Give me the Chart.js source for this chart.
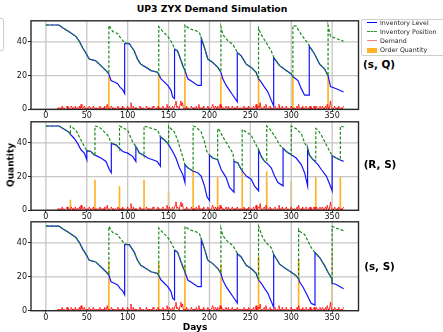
<!DOCTYPE html>
<html>
<head>
<meta charset="utf-8">
<script src="https://cdn.jsdelivr.net/npm/chart.js@4.4.1/dist/chart.umd.min.js"></script>
<style>
  body { margin: 0; background: #fff; }
  #fig { position: relative; width: 443px; height: 332px; overflow: hidden; font-family: 'DejaVu Sans', sans-serif; }
  #fig canvas { position: absolute; left: 0; }
  .lbl { position: absolute; white-space: nowrap; transform: translate(-50%, -50%); font-weight: bold; color: #000; line-height: 1; }
  #legend { position: absolute; left: 360.5px; top: 19px; width: 86px; height: 35px; border: 1px solid #cfcfcf; border-radius: 2px; background: rgba(255,255,255,0.85); z-index: 5; }
  #legend .row { position: absolute; left: 0; height: 0; }
  #legend .h { position: absolute; left: 5px; width: 10px; }
  #legend .t { position: absolute; left: 18.5px; top: 0; transform: translateY(-50%); font-size: 6.3px; color: #222; white-space: nowrap; line-height: 1; }
  #cutbox { position: absolute; left: -30px; top: 18px; width: 32px; height: 31px; border: 1px solid #cfcfcf; border-radius: 2px; }
</style>
</head>
<body>
<div id="fig">
  <div id="cutbox"></div>
  <canvas id="c1" width="362" height="107" style="top:15px"></canvas>
  <canvas id="c2" width="362" height="107" style="top:116px"></canvas>
  <canvas id="c3" width="362" height="107" style="top:216px"></canvas>

  <div class="lbl" style="left:212px; top:9.3px; font-size:9.3px">UP3 ZYX Demand Simulation</div>
  <div class="lbl" style="left:195px; top:327px; font-size:9px">Days</div>
  <div class="lbl" style="left:11.3px; top:164.7px; font-size:9px; transform:translate(-50%,-50%) rotate(-90deg)">Quantity</div>
  <div class="lbl" style="left:379px; top:63.5px; font-size:10.4px">(s, Q)</div>
  <div class="lbl" style="left:380px; top:164.3px; font-size:10.4px">(R, S)</div>
  <div class="lbl" style="left:379.5px; top:265.7px; font-size:10.4px">(s, S)</div>

  <div id="legend">
    <div class="row" style="top:2.7px"><div class="h" style="top:-0.6px; border-top:1.3px solid #0000ff"></div><div class="t">Inventory Level</div></div>
    <div class="row" style="top:12px"><div class="h" style="top:-0.6px; border-top:1.3px dashed #2a9a2a"></div><div class="t">Inventory Position</div></div>
    <div class="row" style="top:21px"><div class="h" style="top:-0.7px; border-top:1.4px solid rgba(255,0,0,0.5)"></div><div class="t">Demand</div></div>
    <div class="row" style="top:30.3px"><div class="h" style="top:-2.5px; height:5px; background:rgba(255,165,0,0.85)"></div><div class="t">Order Quantity</div></div>
  </div>
</div>

<script>
// tick labels
const dayTicks = [0, 50, 100, 150, 200, 250, 300, 350];
const qtyTicks = [0, 20, 40];

// daily demand, days 0..364
const demand = [
  0,0,0,0,0,0,0,0,0,0,0,0,0,0,0,
  1,0,0,1,0,2,0,1,0,0,1,2,0,1,0,0,2,1,0,1,0,2,0,1,1,
  0,2,0,3,1,0,1,2,0,1,0,1,0,2,1,0,0,1,2,0,1,0,1,0,1,
  0,2,0,1,0,1,0,2,0,1,3,0,1,0,0,2,1,0,1,0,1,0,1,2,0,
  1,0,1,0,2,0,1,0,0,1,2,0,1,0,4,1,0,2,0,1,0,1,0,0,1,
  2,0,1,0,1,0,0,1,2,0,1,0,1,0,1,0,2,1,0,0,1,0,2,0,1,
  0,1,0,2,1,0,1,0,3,1,0,2,1,0,1,2,0,1,3,5,1,2,1,0,3,
  5,2,4,1,0,1,0,2,0,1,0,0,1,2,0,1,0,1,0,2,0,1,3,0,1,
  0,1,0,2,1,0,0,1,2,0,1,0,1,2,3,1,0,2,1,0,2,1,0,3,1,
  2,0,1,0,1,2,1,0,2,0,1,0,1,2,0,1,0,1,0,2,0,1,0,1,0,
  1,0,2,0,1,0,1,0,2,1,0,1,0,1,2,0,1,3,0,1,2,1,4,0,1,
  0,1,2,0,3,1,0,1,0,2,0,1,0,1,0,2,1,0,1,0,3,0,1,0,2,
  0,1,0,1,2,0,1,0,0,1,2,0,1,0,1,0,1,2,0,3,1,0,1,0,2,
  0,1,0,2,1,0,1,0,2,0,1,0,1,2,0,1,2,0,1,0,2,1,0,2,1,
  0,1,2,0,3,1,0,2,5,1,0,1,0,2,1,0,1,0,2,1,0,1,0,1,2
];

// (s, Q) policy
const sqLevel = [[0,50],[16,50],[20,48.5],[24.5,47.2],[30.6,45.3],[36.7,43.3],[40.8,40.4],[44.9,36.5],[49.8,32.7],[53,29.8],[61,28.8],[65.3,26.8],[69.4,24.9],[73.5,23],[77,21],[79.6,17.1],[83.7,16.2],[87.8,15.2],[90.6,13.2],[93.9,11.7],[96.3,9.4],[96.3,39],[102,39],[108,34.6],[112,29.8],[116,26.8],[122.4,24.9],[128.6,23],[136.7,22],[138,20.6],[140.8,18.1],[144.9,16.2],[149,14.2],[153,11.3],[155,7.4],[157.3,6.4],[157.3,35.6],[161,34.6],[165.3,28.8],[168.2,24.9],[170,23],[173.5,18.1],[179.6,16.2],[185.7,14.2],[190,14.2],[190,42],[193.9,36.5],[198,29.8],[204,27.8],[210.2,24.9],[214,22],[216.3,18.1],[220.4,14.2],[224.5,11.3],[228.6,8.4],[234,4.5],[234,33.6],[238.8,31.7],[244.9,26.8],[251,24.9],[257,22],[260,18.1],[263.3,16.2],[267.3,13.2],[271.4,10.3],[275.5,5.5],[278.5,2],[278.5,30.7],[285.7,25.9],[293.9,23],[300,21],[302,19.5],[308.2,17.1],[312.2,12.3],[316.3,8.4],[322,8.4],[322,37.5],[328.6,32.7],[334.7,26.8],[340.8,23.9],[345,20],[348,13.5],[355,12.2],[364,10.3]];
const sqPosition = [[0,50],[16,50],[20,48.5],[24.5,47.2],[30.6,45.3],[36.7,43.3],[40.8,40.4],[44.9,36.5],[49.8,32.7],[53,29.8],[61,28.8],[65.3,26.8],[69.4,24.9],[73.5,23],[77,21],[77,49.7],[81.6,46.2],[87.8,44.9],[90.6,42.8],[96.3,39.5],[102,39],[108,34.6],[112,29.8],[116,26.8],[122.4,24.9],[128.6,23],[136.7,22],[138,20.6],[138,49],[142.9,46.2],[149,43.3],[153,40.4],[157.3,36],[161,34.6],[165.3,28.8],[168.2,24.9],[170,23],[170,50],[175.5,47.8],[183.7,46.6],[187.8,45.3],[190,42.5],[193.9,36.5],[198,29.8],[204,27.8],[210.2,24.9],[214,22],[214,49],[216.3,44.3],[222.4,40.8],[228.6,38.5],[234,34],[238.8,31.7],[244.9,26.8],[251,24.9],[257,22],[260,18.1],[260,48.2],[263.3,44.3],[269.4,39.5],[275.5,34.6],[278.5,31],[285.7,25.9],[293.9,23],[300,21],[302,19.5],[302,49.7],[306,49.3],[312.2,44.3],[318.4,40.4],[322,38],[328.6,32.7],[334.7,26.8],[340.8,23.9],[345,20],[345,49.7],[348,43.3],[355,42],[364,40.4]];
const sqOrderDays = [77, 138, 170, 214, 260, 302, 345];
const sqOrderQty = [20, 20, 22, 21, 18, 19, 20];

// (R, S) policy
const rsLevel = [[0,50],[16,50],[24.5,47.5],[28.6,46.1],[30,45],[34.7,42.6],[38.8,39.7],[42.9,35.9],[47,33.9],[50,30],[50,35.3],[55,34.9],[59,32.9],[63.3,32],[67.3,31],[73.5,29],[77.6,24.2],[80,22.3],[80,39.7],[85.7,38.8],[89.8,36.8],[93.9,34.9],[100,33.9],[106,32],[110,29],[110,37.8],[114.3,33.9],[119,32.9],[124.5,31],[130.6,30],[136,29],[140,26.2],[140,43.6],[145,41.7],[149,39.7],[155,34.9],[159,31],[163.3,25.2],[167.3,21.3],[170,16.5],[170,27.1],[173.5,25.2],[179.6,23.3],[185.7,22.3],[189.8,20.3],[193.9,14.5],[197,8],[200,5.8],[200,32.9],[204,31],[210,30],[214.3,24.2],[220.4,19.4],[224.5,13.6],[230,10.7],[230,29],[234.7,28.1],[238.8,24.2],[244.9,20.3],[251,18.4],[255,14.5],[260,11.6],[260,35.9],[263.3,32],[267.3,29],[270,28.1],[275.5,25.2],[279.6,20.3],[283.7,16.5],[290,14.5],[290,36.8],[293.9,34.9],[300,32.9],[306,31],[312.2,27.1],[316.3,22.3],[320,14.5],[320,36.8],[322,33],[326.5,30],[332.7,27.1],[336.7,24.2],[342.9,20.3],[347,15.5],[350,11.6],[350,32.4],[355,31],[359.2,30],[364,29]];
const rsPosition = [[0,50],[16,50],[24.5,47.5],[28.6,46.1],[30,45],[30,50],[36.7,47.5],[40.8,43.6],[44.9,39.7],[50,35.3],[55,34.9],[59,32.9],[60,32.5],[60,50],[65.3,49.4],[71.4,46.5],[75.5,44.6],[80,40],[85.7,38.8],[89.8,36.8],[90,36.5],[90,50],[93.9,49],[100,47.5],[106,40.7],[110,37.8],[114.3,33.9],[119,32.9],[120,32],[120,50],[130.6,48.4],[136.7,47.5],[140,43.6],[145,41.7],[149,39.7],[150,39],[150,50],[153,48.4],[157,46.5],[161,41.7],[165.3,34.9],[170,27.1],[173.5,25.2],[179.6,23.3],[180,23.3],[180,50],[183.7,49.4],[189.8,46.5],[193.9,40.7],[196.7,34.9],[200,32.9],[204,31],[210,30],[210,48.5],[212.2,47.5],[216.3,43.6],[222.4,38.8],[228.6,33.9],[230,29],[234.7,28.1],[238.8,24.2],[240,24],[240,48],[244.9,46.5],[251,44.6],[255,40.7],[260,35.9],[263.3,32],[267.3,29],[270,28.1],[270,50],[273.5,48.4],[277.6,45.5],[281.6,42.6],[285.7,38.8],[290,36.8],[293.9,34.9],[300,32.9],[300,50],[306,48.4],[312.2,45.5],[316.3,40],[320,36.8],[322,33],[326.5,30],[330,29.5],[330,48.5],[332.7,47.5],[336.7,44.6],[342.9,38.8],[350,32.4],[355,31],[359.2,30],[360,30],[360,50],[364,49.5]];
const rsOrderDays = [30, 60, 90, 120, 150, 180, 210, 240, 270, 300, 330, 360];
const rsOrderQty = [6, 18, 14, 18, 11, 24, 20, 24, 23, 17, 20, 20];

// (s, S) policy
const ssLevel = [[0,50],[16,50],[20,48.5],[24.5,47.2],[30.6,45.3],[36.7,43.3],[40.8,40.4],[44.9,36.5],[49.8,32.7],[53,29.8],[61,28.8],[65.3,26.8],[69.4,24.9],[73.5,23],[77,21],[79.6,17.1],[83.7,16.2],[87.8,15.2],[90.6,13.2],[93.9,11.7],[96.3,9.4],[96.3,39],[102,39],[108,34.6],[112,29.8],[116,26.8],[122.4,24.9],[128.6,23],[136.7,22],[138,20.6],[140.8,18.1],[144.9,16.2],[149,14.2],[153,11.3],[155,7.4],[157.3,6.4],[157.3,35.6],[161,34.6],[165.3,28.8],[168.2,24.9],[170,23],[173.5,18.1],[179.6,16.2],[185.7,14.2],[190,14.2],[190,42],[193.9,36.5],[198,29.8],[204,27.8],[210.2,24.9],[214,22],[216.3,18.1],[220.4,14.2],[224.5,11.3],[228.6,8.4],[234,4.5],[234,33.6],[238.8,31.7],[244.9,26.8],[251,24.9],[257,22],[260,18.1],[263.3,16.2],[267.3,13.2],[271.4,10.3],[275.5,5.5],[278.5,2],[278.5,33.3],[285.7,27.5],[293.9,24.6],[300,22.7],[306,20.7],[309,18.8],[310.2,16.9],[314.3,14],[318.4,10.1],[324.5,4.3],[329,3.3],[329,34.3],[334.7,31.4],[340.8,26.6],[344.9,22.7],[349.8,18.8],[350,16],[353,15.9],[357.1,14.9],[364,13]];
const ssPosition = [[0,50],[16,50],[20,48.5],[24.5,47.2],[30.6,45.3],[36.7,43.3],[40.8,40.4],[44.9,36.5],[49.8,32.7],[53,29.8],[61,28.8],[65.3,26.8],[69.4,24.9],[73.5,23],[77,21],[77,49.8],[81.6,46.2],[87.8,44.9],[90.6,42.8],[96.3,39.5],[102,39],[108,34.6],[112,29.8],[116,26.8],[122.4,24.9],[128.6,23],[136.7,22],[138,20.6],[138,48.8],[142.9,46.2],[149,43.3],[153,40.4],[157.3,36],[161,34.6],[165.3,28.8],[168.2,24.9],[170,23],[170,49.8],[175.5,47.8],[183.7,46.6],[187.8,45.3],[190,42.5],[193.9,36.5],[198,29.8],[204,27.8],[210.2,24.9],[214,22],[214,48.8],[216.3,44.3],[222.4,40.8],[228.6,38.5],[234,34],[238.8,31.7],[244.9,26.8],[251,24.9],[257,22],[260,18.1],[260,49.8],[265.3,43],[269.4,40.1],[275.5,37.2],[278.5,33.3],[285.7,27.5],[293.9,24.6],[300,22.7],[306,20.7],[309,18.8],[309,48],[310.2,46.9],[316.3,45],[320.4,41.1],[324.5,37.2],[329,34.3],[334.7,31.4],[340.8,26.6],[344.9,22.7],[349.8,18.8],[350,16],[350,49.8],[355,48.8],[364,47.3]];
const ssOrderDays = [77, 138, 170, 214, 260, 309, 350];
const ssOrderQty = [29, 28, 27, 27, 32, 30, 34];

const font = { family: 'DejaVu Sans', size: 8 };
const toXY = pts => pts.map(([x, y]) => ({ x, y }));

// grid goes above the order bars but under the lines, like matplotlib
const gridPlugin = {
  id: 'gridAfterBars',
  afterDatasetDraw(chart, args) {
    if (args.meta.type !== 'bar') return;
    const { ctx, chartArea: a, scales: { x, y } } = chart;
    ctx.save();
    ctx.strokeStyle = '#c6c6c6';
    ctx.lineWidth = 1.3;
    ctx.beginPath();
    dayTicks.forEach(d => {
      const px = x.getPixelForValue(d);
      ctx.moveTo(px, a.top); ctx.lineTo(px, a.bottom);
    });
    qtyTicks.forEach(q => {
      const py = y.getPixelForValue(q);
      ctx.moveTo(a.left, py); ctx.lineTo(a.right, py);
    });
    ctx.stroke();
    ctx.restore();
  }
};

const framePlugin = {
  id: 'frame',
  afterDatasetsDraw(chart) {
    const { ctx, chartArea: a } = chart;
    ctx.save();
    ctx.strokeStyle = '#2a2a2a';
    ctx.lineWidth = 1.4;
    ctx.strokeRect(a.left, a.top, a.right - a.left, a.bottom - a.top);
    ctx.restore();
  }
};

function makeChart(id, padTop, level, position, orderDays, orderQty) {
  return new Chart(document.getElementById(id), {
    type: 'line',
    data: {
      datasets: [
        { label: 'Inventory Level', data: toXY(level), borderColor: '#1414ff', borderWidth: 1.2, pointRadius: 0, tension: 0, order: 2 },
        { label: 'Inventory Position', data: toXY(position), borderColor: '#1b8a1b', borderDash: [3, 1.8], borderWidth: 1.2, pointRadius: 0, tension: 0, order: 1 },
        { label: 'Demand', data: demand.map((v, i) => ({ x: i, y: v })), borderColor: 'rgba(255,0,0,0.8)', borderWidth: 1, pointRadius: 0, tension: 0, order: 3 },
        { type: 'bar', label: 'Order Quantity', data: orderDays.map((d, i) => ({ x: d, y: orderQty[i] })), backgroundColor: 'rgba(255,165,0,0.85)', barThickness: 1, grouped: false, order: 4 }
      ]
    },
    options: {
      responsive: false,
      animation: false,
      events: [],
      layout: { padding: { top: padTop, bottom: 107 - padTop - 90 - 12, left: 0, right: 3.5 } },
      plugins: { legend: { display: false }, tooltip: { enabled: false } },
      scales: {
        x: {
          type: 'linear', min: -18.2, max: 382.2, offset: false,
          afterBuildTicks: s => { s.ticks = dayTicks.map(v => ({ value: v })); },
          afterFit: s => { s.height = 12; },
          border: { display: false },
          grid: { offset: false, drawOnChartArea: false, tickLength: 2, tickColor: '#222', tickWidth: 1 },
          ticks: { font, color: '#111', padding: 0, maxRotation: 0, autoSkip: false }
        },
        y: {
          min: 0, max: 52.5,
          afterBuildTicks: s => { s.ticks = qtyTicks.map(v => ({ value: v })); },
          afterFit: s => { s.width = 31; },
          border: { display: false },
          grid: { drawOnChartArea: false, tickLength: 3, tickColor: '#222', tickWidth: 1 },
          ticks: { font, color: '#111', padding: 1 }
        }
      }
    },
    plugins: [gridPlugin, framePlugin]
  });
}

makeChart('c1', 4.4, sqLevel, sqPosition, sqOrderDays, sqOrderQty);
makeChart('c2', 4.3, rsLevel, rsPosition, rsOrderDays, rsOrderQty);
makeChart('c3', 4.7, ssLevel, ssPosition, ssOrderDays, ssOrderQty);
</script>
</body>
</html>
